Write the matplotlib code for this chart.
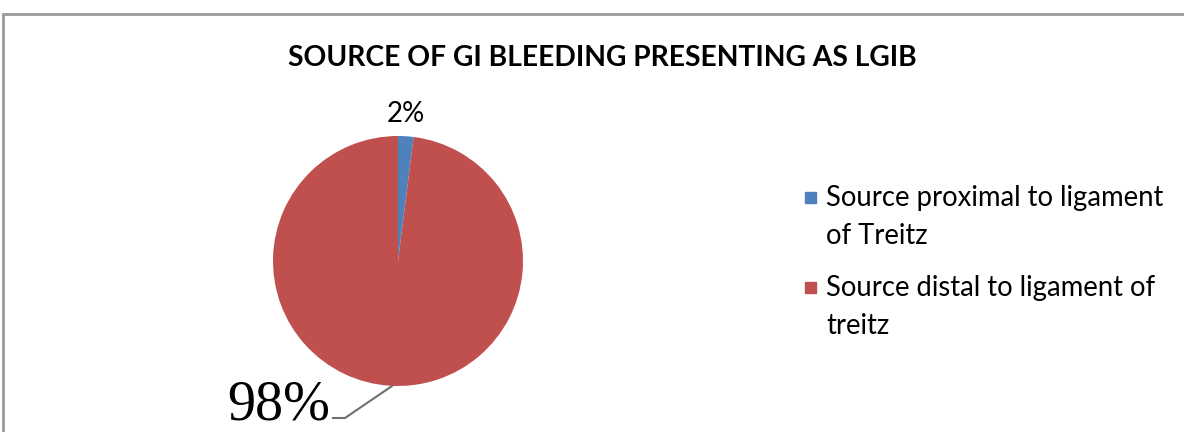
import matplotlib
matplotlib.use("Agg")
import matplotlib.pyplot as plt
from matplotlib.patches import Rectangle

categories = ["Source proximal to ligament\nof Treitz", "Source distal to ligament of\ntreitz"]
values = [2, 98]
pct_labels = ["2%", "98%"]
colors = ["#4F81BD", "#C0504D"]
title = "SOURCE OF GI BLEEDING PRESENTING AS LGIB"

W, H = 1184, 432
fig = plt.figure(figsize=(W / 100, H / 100), dpi=100)
ax = fig.add_axes([0, 0, 1, 1])

def Y(y):
    return H - y

cx, cy, r = 398, 261, 125
ax.pie(values, colors=colors, startangle=90, counterclock=False,
       center=(cx, Y(cy)), radius=r, frame=True,
       wedgeprops=dict(linewidth=0))
ax.set_xlim(0, W)
ax.set_ylim(0, H)
ax.set_aspect("equal")
ax.axis("off")

# border
ax.add_patch(Rectangle((3, Y(440)), 1190, 440 - 14, fill=False, edgecolor="#9a9a9a", lw=2, clip_on=False))

# labels
ax.text(406, Y(114), pct_labels[0], fontsize=20, family="Lato", ha="center", va="center", color="#000000")
ax.plot([392, 345, 333], [Y(386), Y(418), Y(418)], color="#6f6f6f", lw=1.5)
ax.text(330, Y(419), pct_labels[1], fontsize=40.5, family="Liberation Serif", ha="right", va="baseline", color="#000000")

ax.text(602, Y(58), title, fontsize=20.3, family="Lato", weight="bold", ha="center", va="center")

# legend
ys = [198, 288]
line_gap = 38
for yy, lab, c in zip(ys, categories, colors):
    ax.add_patch(Rectangle((805, Y(yy) - 5), 11, 11, color=c))
    for i, line in enumerate(lab.split("\n")):
        ax.text(826, Y(yy + i * line_gap), line, fontsize=19.8, family="Lato",
                ha="left", va="center")

fig.savefig("out.png", dpi=100)
